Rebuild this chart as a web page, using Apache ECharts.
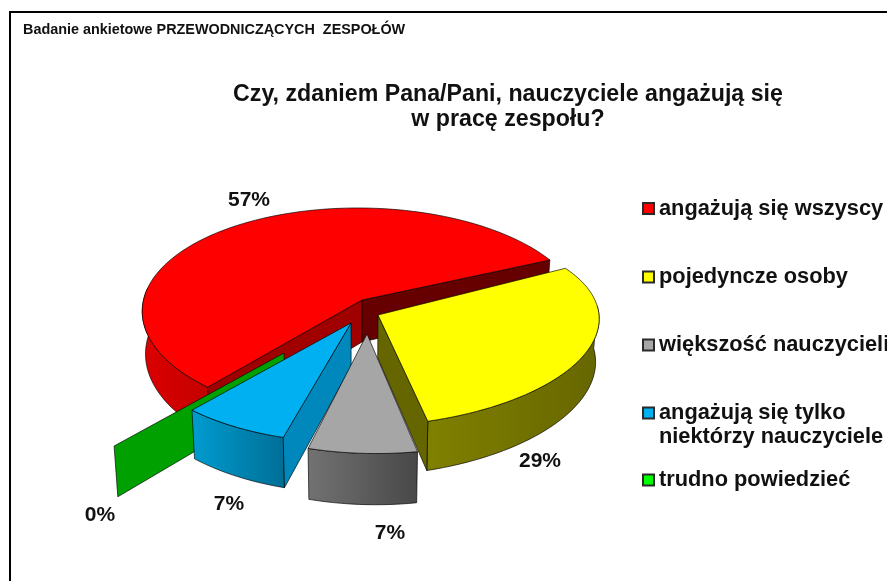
<!DOCTYPE html>
<html><head><meta charset="utf-8">
<style>html,body{margin:0;padding:0;background:#fff}#c{width:887px;height:581px}</style>
<script src="https://cdn.jsdelivr.net/npm/echarts@6/dist/echarts.min.js"></script>
</head><body><div id="c"></div>
<script>
// ---- data ----
const categories = ['angażują się wszyscy','pojedyncze osoby','większość nauczycieli','angażują się tylko niektórzy nauczyciele','trudno powiedzieć'];
const legendLines = ['angażują się wszyscy','pojedyncze osoby','większość nauczycieli','\nangażują się tylko\nniektórzy nauczyciele','trudno powiedzieć'];
const values = [57,29,7,7,0];
const surveyTitle = 'Badanie ankietowe PRZEWODNICZĄCYCH  ZESPOŁÓW';
const question = 'Czy, zdaniem Pana/Pani, nauczyciele angażują się\nw pracę zespołu?';
// ---- styling ----
const topColors = ['#FF0000','#FFFF00','#A6A6A6','#00B0F0','#00FF00'];
const wallGrad = [['#DC0000','#C40000'],['#808000','#666600'],['#727272','#484848'],['#009CD0','#006E96'],['#00A000','#00A000']];
const startWallColors = ['#A00000','#666600','#808080','#0088BD','#00A000'];
const endWallColors = ['#660000','#666600','#808080','#0088BD','#00A000'];
const paintZ = [1,2,5,4,3];
// ---- 3D view ----
const FIRST_ANGLE = 229.1, CX = 361, CY = 300;
const views = [
 {dx:1,  dy:0,  rx:218.5,ry:104,k:.13,shear:5,rot:0},
 {dx:17, dy:15, rx:221,ry:97, k:.13,shear:-20,rot:7},
 {dx:6,  dy:34, rx:219,ry:104,k:.13,shear:8,rot:0},
 {dx:-10,dy:23, rx:219,ry:104,k:.13,shear:0,rot:0},
 {dx:-77,dy:53, rx:234,ry:111,k:.13,shear:0,rot:0}
];
const labelAnchors = [[249,200],[540,461],[390,533],[229,504],[100,515]];
const legendRows = [208.5,277,345,413,480];
const FONT = '"Liberation Sans", Arial, sans-serif';
const edge = 'rgba(0,0,0,.65)';

const total = values.reduce((a,b)=>a+b,0);
function project(v,deg){
  const r=deg*Math.PI/180,u=Math.cos(r),w=-Math.sin(r),s=1/(1-v.k*w);
  return [CX+v.dx+(v.rx*u+v.shear*w)*s, CY+v.dy+v.ry*w*s];
}
function drop(p){ return [CX+(p[0]-CX)*.985, p[1]+42+(p[1]-300)*.06]; }
function arc(v,a0,a1){
  const n=Math.max(1,Math.ceil(Math.abs(a1-a0)/2)),pts=[];
  for(let i=0;i<=n;i++) pts.push(project(v,a0+(a1-a0)*i/n));
  return pts;
}
function poly(points,fill,z2){
  return {type:'polygon',z2:z2,shape:{points:points},style:{fill:fill,stroke:edge,lineWidth:1}};
}
function sliceItem(idx){
  return function(){
    const before=values.slice(0,idx).reduce((a,b)=>a+b,0);
    const v=views[idx];
    const a0=FIRST_ANGLE-before/total*360+v.rot, a1=a0-values[idx]/total*360;
    const apex=[CX+v.dx,CY+v.dy];
    const kids=[];
    if(values[idx]>0){
      // outer wall: only the part turned towards the viewer
      const sampled=arc(v,a0,a1).map((p,i,all)=>{
        const d=a0+(a1-a0)*i/(all.length-1);
        return {p:p,front:-Math.sin(d*Math.PI/180)>-.12};
      }).filter(o=>o.front).map(o=>o.p);
      if(sampled.length>1){
        const grad=new echarts.graphic.LinearGradient(0,0,1,0,[{offset:0,color:wallGrad[idx][0]},{offset:1,color:wallGrad[idx][1]}]);
        kids.push(poly(sampled.concat(sampled.map(drop).reverse()),grad,1));
      }
    }
    const s=project(v,a0), e=project(v,a1);
    // a cut face is drawn only when it is turned towards the viewer
    if(Math.cos(a0*Math.PI/180)<0) kids.push(poly([apex,s,drop(s),drop(apex)],startWallColors[idx],2));
    if(Math.cos(a1*Math.PI/180)>0) kids.push(poly([apex,e,drop(e),drop(apex)],endWallColors[idx],2));
    if(values[idx]>0) kids.push(poly([apex].concat(arc(v,a0,a1)),topColors[idx],3));
    kids.push({type:'text',z2:4,style:{text:values[idx]+'%',x:labelAnchors[idx][0],y:labelAnchors[idx][1],align:'center',verticalAlign:'middle',fontSize:21,fontWeight:'bold',fontFamily:FONT,fill:'#111'}});
    return {type:'group',children:kids};
  };
}
const series=categories.map((name,i)=>({
  type:'custom',name:name,coordinateSystem:'none',silent:true,animation:false,
  z:paintZ[i],clip:false,data:[values[i]],itemStyle:{color:topColors[i]},renderItem:sliceItem(i)
}));
const legends=categories.map((name,i)=>{
  const h=legendLines[i].split('\n').length*24;
  return {show:true,left:642,top:legendRows[i]-h/2,padding:0,orient:'vertical',selectedMode:false,itemWidth:11,itemHeight:11,icon:'rect',
    data:[{name:name,itemStyle:{color:topColors[i],borderColor:'#2a2a2a',borderWidth:2}}],
    formatter:()=>legendLines[i],
    textStyle:{fontFamily:FONT,fontWeight:'bold',fontSize:21.8,lineHeight:24,color:'#111'}};
});
const chart=echarts.init(document.getElementById('c'),null,{renderer:'canvas'});
chart.setOption({
  animation:false,backgroundColor:'#fff',
  title:[
   {text:surveyTitle,left:23,top:23,padding:0,textStyle:{fontFamily:FONT,fontWeight:'bold',fontSize:14.4,color:'#111'}},
   {text:question,left:508,top:82,padding:0,textAlign:'center',textStyle:{fontFamily:FONT,fontWeight:'bold',fontSize:23.2,lineHeight:25,color:'#111'}}
  ],
  legend:legends,
  graphic:[{type:'rect',silent:true,z:-1,shape:{x:10,y:12,width:1000,height:1000},style:{fill:'none',stroke:'#000',lineWidth:2}}],
  series:series
});
</script></body></html>
